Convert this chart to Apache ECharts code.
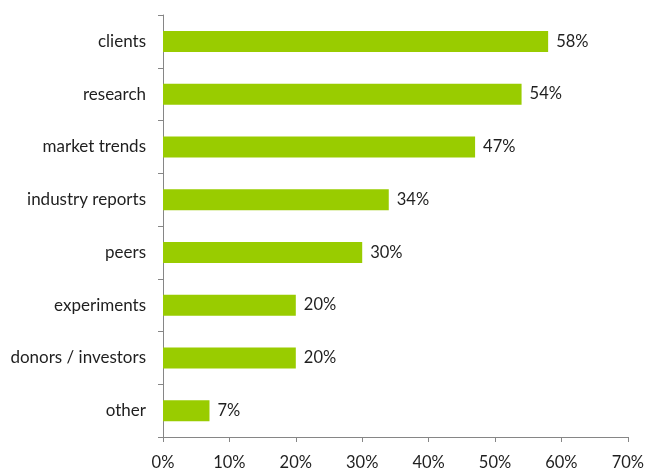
<!DOCTYPE html>
<html>
<head>
<meta charset="utf-8">
<style>
  html, body { margin: 0; padding: 0; background: #ffffff; }
  #chart { width: 647px; height: 471px; }
</style>
<script src="https://cdn.jsdelivr.net/npm/echarts@6/dist/echarts.min.js"></script>
</head>
<body>
<div id="chart"></div>
<script>
// Sources of information, share of respondents (%)
const categories = ['clients', 'research', 'market trends', 'industry reports', 'peers', 'experiments', 'donors / investors', 'other'];
const shares = [58, 54, 47, 34, 30, 20, 20, 7];
const xTicks = [0, 10, 20, 30, 40, 50, 60, 70];

const font = 'Lato, "Open Sans", sans-serif';
const textColor = '#1f1f1f';
const axisColor = '#868686';

const chart = echarts.init(document.getElementById('chart'), null, { renderer: 'canvas' });
chart.setOption({
  animation: false,
  backgroundColor: '#ffffff',
  grid: { left: 163, right: 18, top: 15, bottom: 34, containLabel: false },
  xAxis: {
    type: 'value',
    min: xTicks[0],
    max: xTicks[xTicks.length - 1],
    interval: 10,
    splitLine: { show: false },
    axisLine: { show: true, lineStyle: { color: axisColor, width: 1 } },
    axisTick: { show: true, length: 5, lineStyle: { color: axisColor } },
    axisLabel: {
      margin: 17,
      color: textColor,
      fontFamily: font,
      fontSize: 16.5,
      formatter: v => v + '%'
    }
  },
  yAxis: {
    type: 'category',
    inverse: true,
    data: categories,
    axisLine: { show: true, lineStyle: { color: axisColor, width: 1 } },
    axisTick: { show: true, length: 5, inside: false, lineStyle: { color: axisColor } },
    axisLabel: {
      margin: 17,
      color: textColor,
      fontFamily: font,
      fontSize: 17
    }
  },
  series: [{
    type: 'bar',
    data: shares,
    barWidth: 21,
    itemStyle: { color: '#99cc00' },
    label: {
      show: true,
      position: 'right',
      distance: 8,
      color: textColor,
      fontFamily: font,
      fontSize: 16.5,
      formatter: p => p.value + '%'
    }
  }]
});
</script>
</body>
</html>
